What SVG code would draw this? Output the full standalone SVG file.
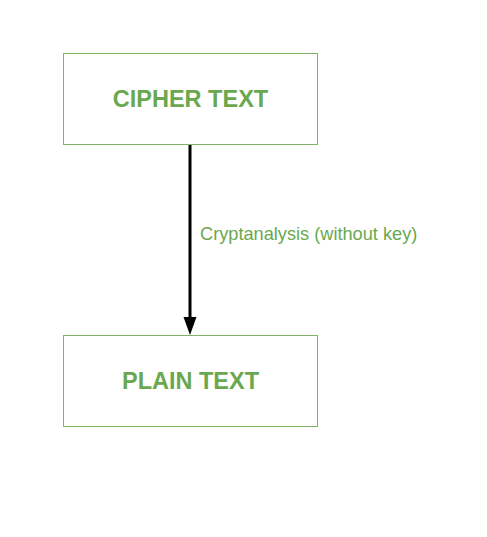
<svg xmlns="http://www.w3.org/2000/svg" width="487" height="537" viewBox="0 0 487 537">
<style>
.box{fill:#ffffff;stroke:#82b366;stroke-width:1}
.title{font-family:"Liberation Sans",Arial,sans-serif;font-size:23.5px;font-weight:bold;fill:#6aa84f;text-anchor:middle}
.lbl{font-family:"Liberation Sans",Arial,sans-serif;font-size:18.2px;fill:#6aa84f}
</style>
<rect width="487" height="537" fill="#ffffff"/>
<g id="cipher">
<rect class="box" x="63.5" y="53.5" width="254" height="91"/>
<text class="title" x="190.5" y="106.5">CIPHER TEXT</text>
</g>
<g id="plain">
<rect class="box" x="63.5" y="335.5" width="254" height="91"/>
<text class="title" x="190.5" y="388.5">PLAIN TEXT</text>
</g>
<g id="connectors">
<line x1="190" y1="145" x2="190" y2="318" stroke="#000" stroke-width="3"/>
<path d="M183.5,317 L196.5,317 L190,335 Z" fill="#000"/>
<text class="lbl" x="200" y="240">Cryptanalysis (without key)</text>
</g>
</svg>
